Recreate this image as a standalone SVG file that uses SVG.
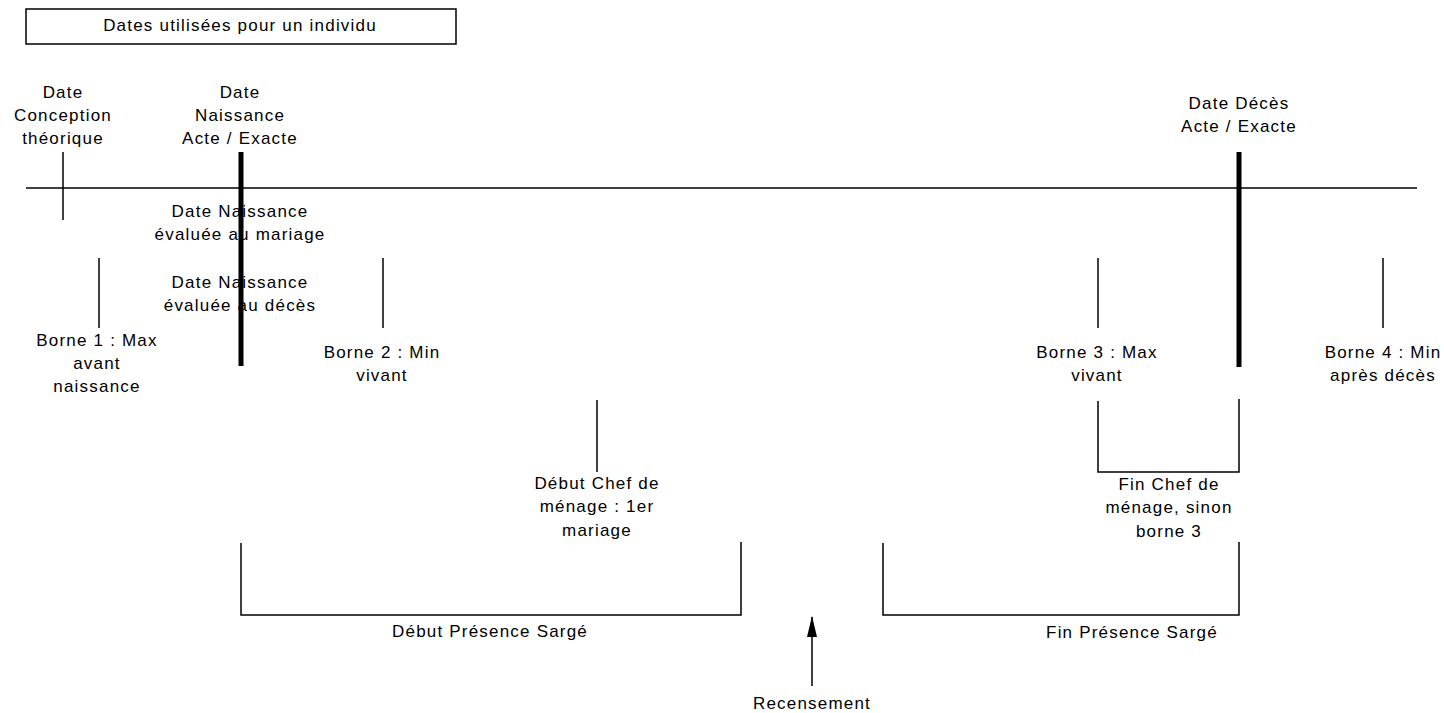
<svg xmlns="http://www.w3.org/2000/svg" width="1444" height="713" viewBox="0 0 1444 713">
<defs>
<style>
.t{font-family:"Liberation Sans",Arial,sans-serif;font-size:17px;letter-spacing:1.2px;fill:#000;text-anchor:middle}
.ln{stroke:#000;stroke-width:1.5;fill:none}
.thick{stroke:#000;stroke-width:5;fill:none}
</style>
<marker id="arr" viewBox="0 0 21 10" refX="20" refY="5" markerWidth="21" markerHeight="10" markerUnits="userSpaceOnUse" orient="auto">
<path d="M0,0 L21,5 L0,10 Z" fill="#000"/>
</marker>
</defs>
<rect width="1444" height="713" fill="#fff"/>
<g id="title">
<rect x="26" y="9" width="430" height="35" class="ln"/>
<text class="t" x="240" y="31">Dates utilisées pour un individu</text>
</g>
<g id="axis"><line class="ln" x1="26" y1="188" x2="1417" y2="188"/></g>
<g id="conception">
<line class="ln" x1="63" y1="152" x2="63" y2="220"/>
<text class="t" x="63" y="98">Date</text>
<text class="t" x="63" y="121">Conception</text>
<text class="t" x="63" y="144">théorique</text>
</g>
<g id="naissance-mariage">
<text class="t" x="240" y="217">Date Naissance</text>
<text class="t" x="240" y="240">évaluée au mariage</text>
</g>
<g id="naissance-deces">
<text class="t" x="240" y="288">Date Naissance</text>
<text class="t" x="240" y="311">évaluée au décès</text>
</g>
<g id="naissance-exacte">
<text class="t" x="240" y="98">Date</text>
<text class="t" x="240" y="121">Naissance</text>
<text class="t" x="240" y="144">Acte / Exacte</text>
<line class="thick" x1="241" y1="152" x2="241" y2="366"/>
</g>
<g id="borne1">
<line class="ln" x1="99" y1="258" x2="99" y2="328"/>
<text class="t" x="97" y="346">Borne 1 : Max</text>
<text class="t" x="97" y="369">avant</text>
<text class="t" x="97" y="392">naissance</text>
</g>
<g id="borne2">
<line class="ln" x1="383" y1="258" x2="383" y2="328"/>
<text class="t" x="382" y="358">Borne 2 : Min</text>
<text class="t" x="382" y="381">vivant</text>
</g>
<g id="deces-exacte">
<text class="t" x="1239" y="109">Date Décès</text>
<text class="t" x="1239" y="132">Acte / Exacte</text>
<line class="thick" x1="1239" y1="152" x2="1239" y2="367"/>
</g>
<g id="borne3">
<line class="ln" x1="1098" y1="258" x2="1098" y2="328"/>
<text class="t" x="1097" y="358">Borne 3 : Max</text>
<text class="t" x="1097" y="381">vivant</text>
</g>
<g id="borne4">
<line class="ln" x1="1383" y1="258" x2="1383" y2="328"/>
<text class="t" x="1383" y="358">Borne 4 : Min</text>
<text class="t" x="1383" y="381">après décès</text>
</g>
<g id="debut-chef">
<line class="ln" x1="597" y1="400" x2="597" y2="472"/>
<text class="t" x="597" y="489">Début Chef de</text>
<text class="t" x="597" y="512">ménage : 1er</text>
<text class="t" x="597" y="536">mariage</text>
</g>
<g id="fin-chef">
<text class="t" x="1169" y="490">Fin Chef de</text>
<text class="t" x="1169" y="513">ménage, sinon</text>
<text class="t" x="1169" y="537">borne 3</text>
</g>
<g id="debut-presence">
<text class="t" x="490" y="637">Début Présence Sargé</text>
</g>
<g id="fin-presence">
<text class="t" x="1132" y="638">Fin Présence Sargé</text>
</g>
<g id="recensement">
<text class="t" x="812" y="709">Recensement</text>
</g>
<g id="connectors">
<polyline class="ln" points="1098,401 1098,472 1239,472 1239,399"/>
<polyline class="ln" points="241,543 241,615 741,615 741,542"/>
<polyline class="ln" points="883,543 883,615 1239,615 1239,542"/>
<line class="ln" x1="812" y1="686" x2="812" y2="617" marker-end="url(#arr)"/>
</g>
</svg>
